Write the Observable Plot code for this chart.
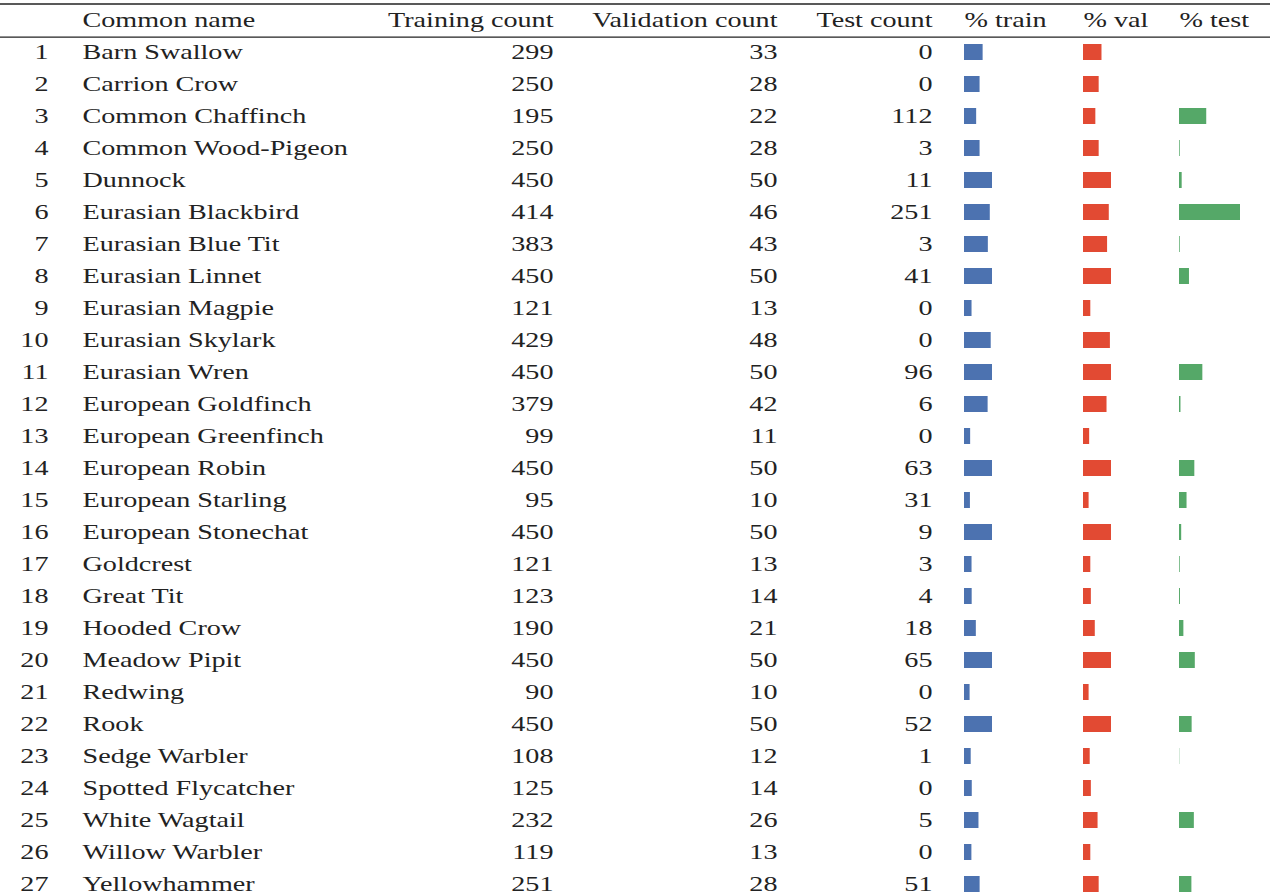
<!DOCTYPE html>
<html>
<head>
<meta charset="utf-8">
<script src="https://cdn.jsdelivr.net/npm/d3@7"></script>
<script src="https://cdn.jsdelivr.net/npm/@observablehq/plot@0.6"></script>
<style>
  html, body { margin: 0; padding: 0; background: #fff; }
  #chart svg { display: block; }
</style>
</head>
<body>
<div id="chart"></div>
<script>
// ---- data ----
const headers = ["", "Common name", "Training count", "Validation count", "Test count", "% train", "% val", "% test"];
const names = ["Barn Swallow","Carrion Crow","Common Chaffinch","Common Wood-Pigeon","Dunnock","Eurasian Blackbird","Eurasian Blue Tit","Eurasian Linnet","Eurasian Magpie","Eurasian Skylark","Eurasian Wren","European Goldfinch","European Greenfinch","European Robin","European Starling","European Stonechat","Goldcrest","Great Tit","Hooded Crow","Meadow Pipit","Redwing","Rook","Sedge Warbler","Spotted Flycatcher","White Wagtail","Willow Warbler","Yellowhammer"];
const trainCount = [299,250,195,250,450,414,383,450,121,429,450,379,99,450,95,450,121,123,190,450,90,450,108,125,232,119,251];
const valCount = [33,28,22,28,50,46,43,50,13,48,50,42,11,50,10,50,13,14,21,50,10,50,12,14,26,13,28];
const testCount = [0,0,112,3,11,251,3,41,0,0,96,6,0,63,31,9,3,4,18,65,0,52,1,0,5,0,51];
// bar lengths (percent)
const pctTrain = [4.03,3.37,2.63,3.37,6.06,5.58,5.16,6.06,1.63,5.78,6.06,5.11,1.33,6.06,1.28,6.06,1.63,1.66,2.56,6.06,1.21,6.06,1.45,1.68,3.13,1.60,3.38];
const pctVal = [4.00,3.39,2.67,3.39,6.06,5.58,5.21,6.06,1.58,5.82,6.06,5.09,1.33,6.06,1.21,6.06,1.58,1.70,2.55,6.06,1.21,6.06,1.45,1.70,3.15,1.58,3.39];
const pctTest = [0,0,13.58,0.36,1.33,30.42,0.36,4.97,0,0,11.64,0.73,0,7.64,3.76,1.09,0.36,0.48,2.18,7.88,0,6.30,0.12,0,7.40,0,6.18];

const colors = {train: "#4C72B0", val: "#E24A33", test: "#55A868"};

// ---- layout ----
const W = 1280, H = 895;
const SX = 1.28; // horizontal stretch of glyphs (as in reference)
const col = {idx: 48, name: 82, train: 553, val: 777, test: 932, ptrain: 964, pval: 1083, ptest: 1179};
const kTrain = 28 / 6.06, kVal = 28 / 6.06, kTest = 61 / 30.42;

const rows = names.map((n, i) => ({
  r: i + 1, idx: String(i + 1), name: n,
  train: String(trainCount[i]), val: String(valCount[i]), test: String(testCount[i]),
  pt: pctTrain[i], pv: pctVal[i], ps: pctTest[i]
}));

const headerCells = [
  {t: headers[1], x: col.name, a: "start"},
  {t: headers[2], x: col.train, a: "end"},
  {t: headers[3], x: col.val, a: "end"},
  {t: headers[4], x: col.test, a: "end"},
  {t: headers[5], x: col.ptrain, a: "start"},
  {t: headers[6], x: col.pval, a: "start"},
  {t: headers[7], x: col.ptest, a: "start"}
];

const fs = 22;
const ink = "#222";
const txt = (key, x, anchor) => Plot.text(rows, {
  x: () => x, y: "r", text: key, textAnchor: anchor, lineAnchor: "bottom",
  fontSize: fs, fill: ink
});
const head = (anchor) => Plot.text(headerCells.filter(d => d.a === anchor), {
  x: "x", y: () => 0, text: "t", textAnchor: anchor, lineAnchor: "bottom", fontSize: fs, fill: ink
});
const bar = (key, x0, k, fill) => Plot.rect(rows.filter(d => d[key] > 0), {
  x1: () => x0, x2: d => x0 + d[key] * k,
  y1: d => d.r - 0.4375, y2: d => d.r + 0.0625, fill
});

const chart = Plot.plot({
  width: W, height: H,
  margin: 0,
  x: {type: "linear", domain: [0, W], range: [0, W], axis: null},
  y: {type: "linear", domain: [-26 / 32, (H - 26) / 32], range: [0, H], axis: null},
  style: {fontFamily: "'Liberation Serif', serif", fontSize: fs + "px", background: "#fff", color: ink},
  marks: [
    Plot.ruleY([-0.70], {x1: 0, x2: 1270, stroke: "#222", strokeWidth: 1.5}),
    Plot.ruleY([0.33], {x1: 0, x2: 1270, stroke: "#222", strokeWidth: 1.2}),
    head("start"),
    head("end"),
    txt("idx", col.idx, "end"),
    txt("name", col.name, "start"),
    txt("train", col.train, "end"),
    txt("val", col.val, "end"),
    txt("test", col.test, "end"),
    bar("pt", col.ptrain, kTrain, colors.train),
    bar("pv", col.pval, kVal, colors.val),
    bar("ps", col.ptest, kTest, colors.test)
  ]
});

// stretch glyphs horizontally around their anchor point
for (const t of chart.querySelectorAll("text")) {
  const x = +(t.getAttribute("x") || 0), y = +(t.getAttribute("y") || 0);
  t.removeAttribute("x"); t.removeAttribute("y");
  const tr = t.getAttribute("transform") || "";
  t.setAttribute("transform", `${tr} translate(${x},${y}) scale(${SX},1)`);
}
document.getElementById("chart").appendChild(chart);
</script>
</body>
</html>
